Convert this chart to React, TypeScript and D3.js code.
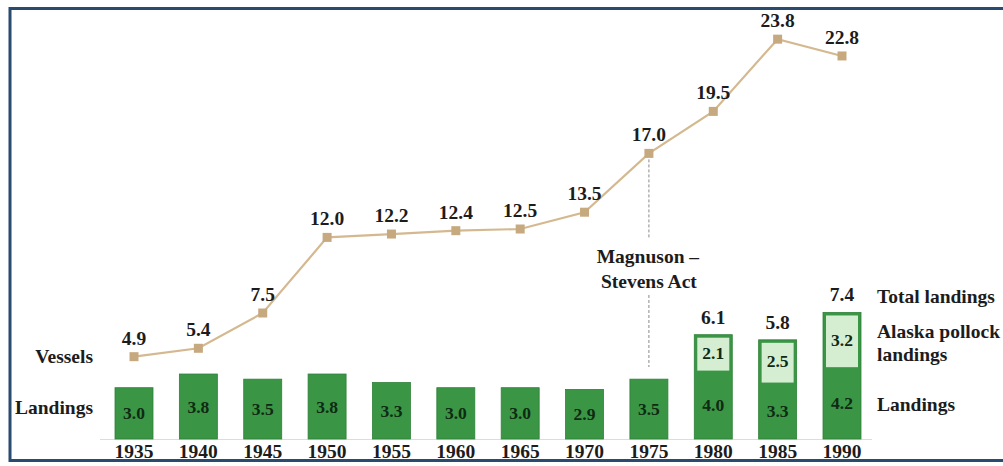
import React from "react";
import * as d3 from "d3";

// Years shown along the axis
const years = ["1935", "1940", "1945", "1950", "1955", "1960", "1965", "1970", "1975", "1980", "1985", "1990"];
// Number of vessels (thousands)
const vessels = [4.9, 5.4, 7.5, 12.0, 12.2, 12.4, 12.5, 13.5, 17.0, 19.5, 23.8, 22.8];
// Landings excluding Alaska pollock
const landings = [3.0, 3.8, 3.5, 3.8, 3.3, 3.0, 3.0, 2.9, 3.5, 4.0, 3.3, 4.2];
// Alaska pollock landings
const pollock = [0, 0, 0, 0, 0, 0, 0, 0, 0, 2.1, 2.5, 3.2];
// Total landings labels
const totals = [null, null, null, null, null, null, null, null, null, 6.1, 5.8, 7.4];

const W = 1003;
const H = 466;
const FONT = "Liberation Serif, Times New Roman, Times, DejaVu Serif, serif";
const TEXT = "#1c1c1c";
const GREEN = "#3a9545";
const GREEN_EDGE = "#2f8139";
const LIGHT = "#d5eed2";
const TAN_LINE = "#d4b990";
const TAN_MARK = "#c6a97f";

export default function App() {
  const x = d3.scalePoint<string>().domain(years).range([134, 842]);
  const base = 439;
  const yV = d3.scaleLinear().domain([0, 25]).range([base, base - 25 * 16.8]);
  const yL = d3.scaleLinear().domain([0, 8]).range([base, base - 8 * 17.1]);
  const barW = 38;

  const line = d3
    .line<number>()
    .x((_, i) => x(years[i]) as number)
    .y((d) => yV(d));

  const actX = x("1975") as number;
  const actIdx = years.indexOf("1975");

  const t = {
    fontFamily: FONT,
    fontWeight: 700,
    fontSize: 19.5,
    fill: TEXT,
  };
  const barText = {
    fontFamily: FONT,
    fontWeight: 700,
    fontSize: 17.5,
    fill: "#0f2a12",
  };

  return (
    <svg
      width={W}
      height={H}
      style={{ position: "absolute", left: 0, top: 0, background: "#fff" }}
    >
      {/* baseline */}
      <line x1={100} x2={872} y1={base + 0.5} y2={base + 0.5} stroke="#dcdcdc" strokeWidth={1} />

      {/* bars */}
      {years.map((yr, i) => {
        const cx = x(yr) as number;
        const total = landings[i] + pollock[i];
        const topY = yL(total);
        const midY = yL(landings[i]);
        return (
          <g key={yr}>
            <rect
              x={cx - barW / 2}
              y={topY}
              width={barW}
              height={base - topY}
              fill={GREEN}
              stroke={GREEN_EDGE}
              strokeWidth={0.8}
            />
            {pollock[i] > 0 && (
              <rect
                x={cx - barW / 2 + 3}
                y={topY + 3}
                width={barW - 6}
                height={midY - topY - 3}
                fill={LIGHT}
              />
            )}
            <text x={cx} y={(midY + base) / 2 + 6} textAnchor="middle" {...barText}>
              {landings[i].toFixed(1)}
            </text>
            {pollock[i] > 0 && (
              <text x={cx} y={(topY + midY) / 2 + 6} textAnchor="middle" {...barText}>
                {pollock[i].toFixed(1)}
              </text>
            )}
            {totals[i] != null && (
              <text x={cx} y={topY - 11} textAnchor="middle" {...t}>
                {(totals[i] as number).toFixed(1)}
              </text>
            )}
            <text x={cx} y={458} textAnchor="middle" {...t}>
              {yr}
            </text>
          </g>
        );
      })}

      {/* Magnuson–Stevens Act marker */}
      <line
        x1={actX}
        x2={actX}
        y1={yV(vessels[actIdx]) + 6}
        y2={238}
        stroke="#8a8a8a"
        strokeWidth={1}
        strokeDasharray="3,2"
      />
      <line
        x1={actX}
        x2={actX}
        y1={295}
        y2={367}
        stroke="#8a8a8a"
        strokeWidth={1}
        strokeDasharray="3,2"
      />
      <text x={actX - 1} y={263} textAnchor="middle" {...t}>
        Magnuson –
      </text>
      <text x={actX} y={288} textAnchor="middle" {...t}>
        Stevens Act
      </text>

      {/* vessels line */}
      <path d={line(vessels) || ""} fill="none" stroke={TAN_LINE} strokeWidth={2.2} />
      {vessels.map((v, i) => {
        const cx = x(years[i]) as number;
        const cy = yV(v);
        return (
          <g key={"v" + i}>
            <rect x={cx - 4.5} y={cy - 4.5} width={9} height={9} fill={TAN_MARK} />
            <text x={cx} y={cy - 12} textAnchor="middle" {...t}>
              {v.toFixed(1)}
            </text>
          </g>
        );
      })}

      {/* row labels */}
      <text x={93} y={363} textAnchor="end" {...t}>
        Vessels
      </text>
      <text x={93} y={414} textAnchor="end" {...t}>
        Landings
      </text>
      <text x={877} y={303} {...t}>
        Total landings
      </text>
      <text x={877} y={338} {...t}>
        Alaska pollock
      </text>
      <text x={877} y={361} {...t}>
        landings
      </text>
      <text x={877} y={411} {...t}>
        Landings
      </text>

      {/* frame */}
      <rect x={10} y={8.5} width={1010} height={452} fill="none" stroke="#2b4a70" strokeWidth={3} />
    </svg>
  );
}
